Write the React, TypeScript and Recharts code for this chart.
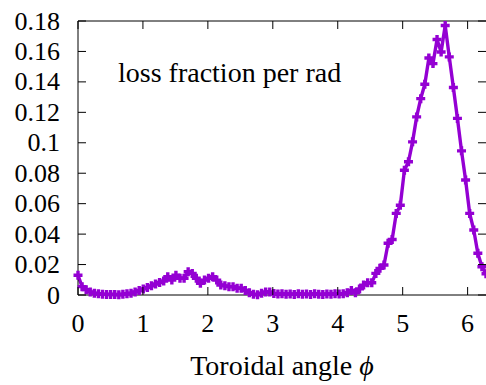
import React from 'react';
import { LineChart, Line, XAxis, YAxis, ReferenceLine } from 'recharts';

// sampled on a 100-step grid over one toroidal turn
const PHI_STEPS = 100;
const lossPerRad = [
  0.013, 0.0055, 0.0035, 0.002, 0.0012, 0.0008, 0.0005, 0.0004, 0.0003, 0.0004,
  0.0002, 0.0005, 0.0008, 0.0012, 0.002, 0.003, 0.004, 0.005, 0.006, 0.0072,
  0.0082, 0.0092, 0.012, 0.0098, 0.013, 0.011, 0.011, 0.0153, 0.0142, 0.011,
  0.0077, 0.0098, 0.011, 0.012, 0.0098, 0.0066, 0.006, 0.0055, 0.0055, 0.0044,
  0.0044, 0.003, 0.0015, 0.0005, 0.0001, 0.0012, 0.002, 0.002, 0.001, 0.0006,
  0.0008, 0.0005, 0.0007, 0.0004, 0.0008, 0.0005, 0.0006, 0.0003, 0.0009, 0.0005,
  0.0004, 0.0007, 0.0005, 0.0008, 0.0006, 0.0009, 0.0015, 0.003, 0.0015, 0.004,
  0.0065, 0.008, 0.008, 0.0142, 0.0175, 0.0197, 0.034, 0.0365, 0.0536, 0.059,
  0.082, 0.0875, 0.1006, 0.117, 0.129, 0.1384, 0.1557, 0.152, 0.1678, 0.1596,
  0.177, 0.1564, 0.1363, 0.116, 0.0947, 0.0755, 0.0536, 0.0427, 0.0274, 0.0186,
  0.014,
];
const xTicks = [0, 1, 2, 3, 4, 5, 6];
const yTicks = [0, 0.02, 0.04, 0.06, 0.08, 0.1, 0.12, 0.14, 0.16, 0.18];

const data = lossPerRad.map((loss, i) => ({ phi: (i * 2 * Math.PI) / PHI_STEPS, loss }));

const W = 486;
const H = 385;
const TOP = 21;
const LEFT = 78;
const XH = 90;
const PLOT_RIGHT = W;
const PURPLE = '#9400d3';
const FONT = "'Liberation Serif', 'DejaVu Serif', 'Times New Roman', Times, serif";

const XTick = (props: any) => {
  const { x, y, payload } = props;
  return (
    <g>
      <line x1={x} x2={x} y1={y} y2={y - 8} stroke="#000" />
      <line x1={x} x2={x} y1={TOP} y2={TOP + 8} stroke="#000" />
      <text x={x} y={y + 28} textAnchor="middle" dominantBaseline="central" style={{ fontFamily: FONT }} fontSize={26} fill="#000">
        {payload.value}
      </text>
    </g>
  );
};

const YTick = (props: any) => {
  const { x, y, payload } = props;
  return (
    <g>
      <line x1={x} x2={x + 8} y1={y} y2={y} stroke="#000" />
      <line x1={PLOT_RIGHT} x2={PLOT_RIGHT - 8} y1={y} y2={y} stroke="#000" />
      <text x={x - 18} y={y} textAnchor="end" dominantBaseline="central" style={{ fontFamily: FONT }} fontSize={26} fill="#000">
        {payload.value}
      </text>
    </g>
  );
};

const PlusDot = (props: any) => {
  const { cx, cy } = props;
  if (cx == null || cy == null) return null;
  return (
    <path
      d={`M${cx - 4.5},${cy}H${cx + 4.5}M${cx},${cy - 4.5}V${cy + 4.5}`}
      stroke={PURPLE}
      strokeWidth={3.4}
      fill="none"
    />
  );
};

const XTitle = (props: any) => {
  const { x, y, width } = props.viewBox;
  return (
    <text x={x + width / 2} y={y + 80} textAnchor="middle" style={{ fontFamily: FONT }} fontSize={28} fill="#000">
      Toroidal angle <tspan fontStyle="italic">ϕ</tspan>
    </text>
  );
};

export default function App() {
  return (
    <div style={{ position: 'absolute', left: 0, top: 0, width: W, height: H, background: '#fff' }}>
      <LineChart width={W} height={H} data={data} margin={{ top: TOP, right: 0, left: 0, bottom: 0 }}>
        <XAxis
          dataKey="phi"
          type="number"
          domain={[0, 2 * Math.PI]}
          ticks={xTicks}
          interval={0}
          height={XH}
          tickSize={0}
          tickMargin={0}
          tickLine={false}
          tick={<XTick />}
          axisLine={{ stroke: '#000' }}
          label={<XTitle />}
        />
        <YAxis
          type="number"
          domain={[0, 0.18]}
          ticks={yTicks}
          interval={0}
          width={LEFT}
          tickSize={0}
          tickMargin={0}
          tickLine={false}
          tick={<YTick />}
          axisLine={{ stroke: '#000' }}
        />
        <ReferenceLine y={0.18} stroke="#000" ifOverflow="visible" />
        <Line
          type="linear"
          dataKey="loss"
          stroke={PURPLE}
          strokeWidth={3.4}
          dot={<PlusDot />}
          activeDot={false}
          isAnimationActive={false}
        />
      </LineChart>
      <div
        style={{
          position: 'absolute',
          left: 118,
          top: 59,
          fontFamily: FONT,
          fontSize: 28,
          lineHeight: '28px',
          whiteSpace: 'nowrap',
          color: '#000',
        }}
      >
        loss fraction per rad
      </div>
    </div>
  );
}
